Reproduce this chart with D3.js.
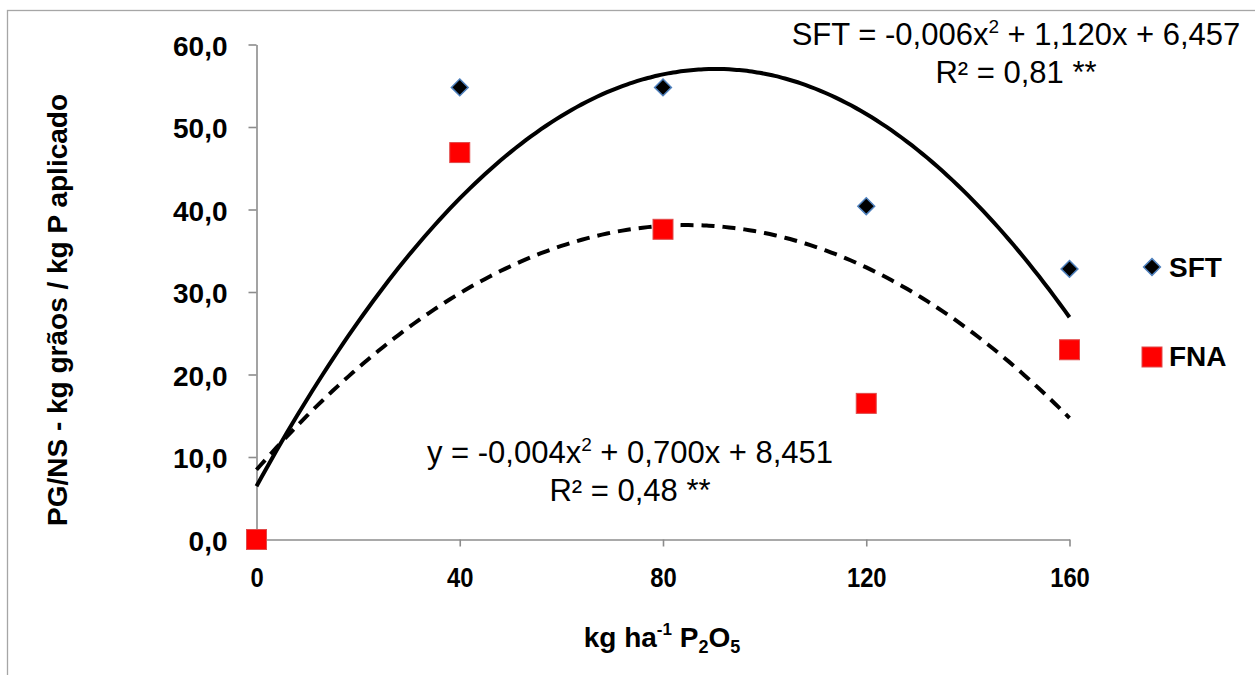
<!DOCTYPE html>
<html>
<head>
<meta charset="utf-8">
<script src="https://cdn.jsdelivr.net/npm/d3@7"></script>
<style>
  body { margin: 0; background: #fff; }
  text { font-family: "Liberation Sans", Arial, sans-serif; }
</style>
</head>
<body>
<div id="chart"></div>
<script>
width = 1255
height = 675

// doses of P2O5 (kg/ha)
const doses = [0, 40, 80, 120, 160]
// PG/NS values
const sftValues = [0, 54.8, 54.8, 40.4, 32.8]
const fnaValues = [0, 46.9, 37.6, 16.5, 23.0]
const yTicks = [0, 10, 20, 30, 40, 50, 60]

// quadratic trend coefficients [a, b, c] (a estimated from the drawn curves)
const sftTrend = [-0.0062, 1.120, 6.457]
const fnaTrend = [-0.00413, 0.700, 8.451]

const svg = d3.select("#chart")
  .append("svg")
    .attr("width", width)
    .attr("height", height)

// outer chart border (only top/left visible in the picture)
svg.append("rect")
  .attr("x", 7.5).attr("y", 10.5)
  .attr("width", 1300).attr("height", 700)
  .attr("fill", "none")
  .attr("stroke", "#a6a6a6")
  .attr("stroke-width", 1.3)

const x = d3.scaleLinear().domain([0, 160]).range([256.5, 1069.5])
const y = d3.scaleLinear().domain([0, 60]).range([539.5, 44.5])

const fmt = d => d3.format(".1f")(d).replace(".", ",")

// axes
const yAxis = svg.append("g")
  .attr("transform", `translate(${x(0)},0)`)
  .call(d3.axisLeft(y).tickValues(yTicks).tickSize(8).tickSizeOuter(0).tickPadding(21).tickFormat(fmt))

const xAxis = svg.append("g")
  .attr("transform", `translate(0,${y(0)})`)
  .call(d3.axisBottom(x).tickValues(doses).tickSize(7).tickSizeOuter(0).tickPadding(21))

;[xAxis, yAxis].forEach(g => {
  g.selectAll("path, line").attr("stroke", "#8c8c8c").attr("stroke-width", 1.6)
  g.selectAll("text")
    .attr("font-family", "Liberation Sans, Arial, sans-serif")
    .attr("font-size", 28)
    .attr("font-weight", "bold")
    .attr("fill", "#000")
})
yAxis.selectAll("text").attr("dy", "0.38em")
// x tick labels look condensed in the reference
xAxis.selectAll(".tick text").attr("transform", "scale(0.85,1)")

// trend curves
const quad = c => v => c[0] * v * v + c[1] * v + c[2]
const xs = d3.range(0, 160.01, 1)
const line = f => d3.line().x(d => x(d)).y(d => y(f(d))).curve(d3.curveMonotoneX)

svg.append("path")
  .datum(xs)
  .attr("d", line(quad(sftTrend)))
  .attr("fill", "none")
  .attr("stroke", "#000")
  .attr("stroke-width", 4)

svg.append("path")
  .datum(xs)
  .attr("d", line(quad(fnaTrend)))
  .attr("fill", "none")
  .attr("stroke", "#000")
  .attr("stroke-width", 4)
  .attr("stroke-dasharray", "13,8")

// markers
const diamond = d3.symbol().type(d3.symbolDiamond2).size(180)

svg.selectAll(".sft")
  .data(doses.map((d, i) => [d, sftValues[i]]))
  .enter().append("path")
  .attr("class", "sft")
  .attr("d", diamond)
  .attr("transform", d => `translate(${x(d[0])},${y(d[1])})`)
  .attr("fill", "#000")
  .attr("stroke", "#4f81bd")
  .attr("stroke-width", 1.5)

svg.selectAll(".fna")
  .data(doses.map((d, i) => [d, fnaValues[i]]))
  .enter().append("rect")
  .attr("class", "fna")
  .attr("x", d => x(d[0]) - 10)
  .attr("y", d => y(d[1]) - 10)
  .attr("width", 20).attr("height", 20)
  .attr("fill", "#ff0000")
  .attr("stroke", "#e04a4a")
  .attr("stroke-width", 1)

// equations: parts are plain strings or {s: "..."} for a superscript
function equation(cx, cy, lines) {
  const t = svg.append("text")
    .attr("text-anchor", "middle")
    .attr("font-size", 31)
    .attr("fill", "#000")
  lines.forEach((parts, li) => {
    const row = t.append("tspan").attr("x", cx).attr("y", cy + li * 38)
    let raised = false
    parts.forEach(p => {
      if (typeof p === "string") {
        row.append("tspan").attr("dy", raised ? 12 : null).text(p)
        raised = false
      } else {
        row.append("tspan").attr("font-size", 19).attr("dy", -12).text(p.s)
        raised = true
      }
    })
  })
}

equation(1016, 45, [["SFT = -0,006x", {s: "2"}, " + 1,120x + 6,457"], ["R² = 0,81 **"]])
equation(630, 463, [["y = -0,004x", {s: "2"}, " + 0,700x + 8,451"], ["R² = 0,48 **"]])

// legend
const legend = svg.append("g")
legend.append("path")
  .attr("d", diamond)
  .attr("transform", "translate(1152,267)")
  .attr("fill", "#000").attr("stroke", "#4f81bd").attr("stroke-width", 1.5)
legend.append("text").attr("x", 1169).attr("y", 277)
  .attr("font-size", 28).attr("font-weight", "bold").text("SFT")
legend.append("rect")
  .attr("x", 1142).attr("y", 347).attr("width", 20).attr("height", 20)
  .attr("fill", "#ff0000").attr("stroke", "#e04a4a")
legend.append("text").attr("x", 1169).attr("y", 366)
  .attr("font-size", 28).attr("font-weight", "bold").text("FNA")

// axis titles
const xt = svg.append("text")
  .attr("x", 662).attr("y", 647)
  .attr("text-anchor", "middle")
  .attr("font-size", 28).attr("font-weight", "bold")
xt.append("tspan").text("kg ha")
xt.append("tspan").attr("font-size", 17).attr("dy", -12).text("-1")
xt.append("tspan").attr("dy", 12).text(" P")
xt.append("tspan").attr("font-size", 18).attr("dy", 6).text("2")
xt.append("tspan").attr("dy", -6).text("O")
xt.append("tspan").attr("font-size", 18).attr("dy", 6).text("5")

svg.append("text")
  .attr("transform", "translate(67,310) rotate(-90)")
  .attr("text-anchor", "middle")
  .attr("font-size", 28).attr("font-weight", "bold")
  .text("PG/NS - kg grãos / kg P aplicado")
</script>
</body>
</html>
